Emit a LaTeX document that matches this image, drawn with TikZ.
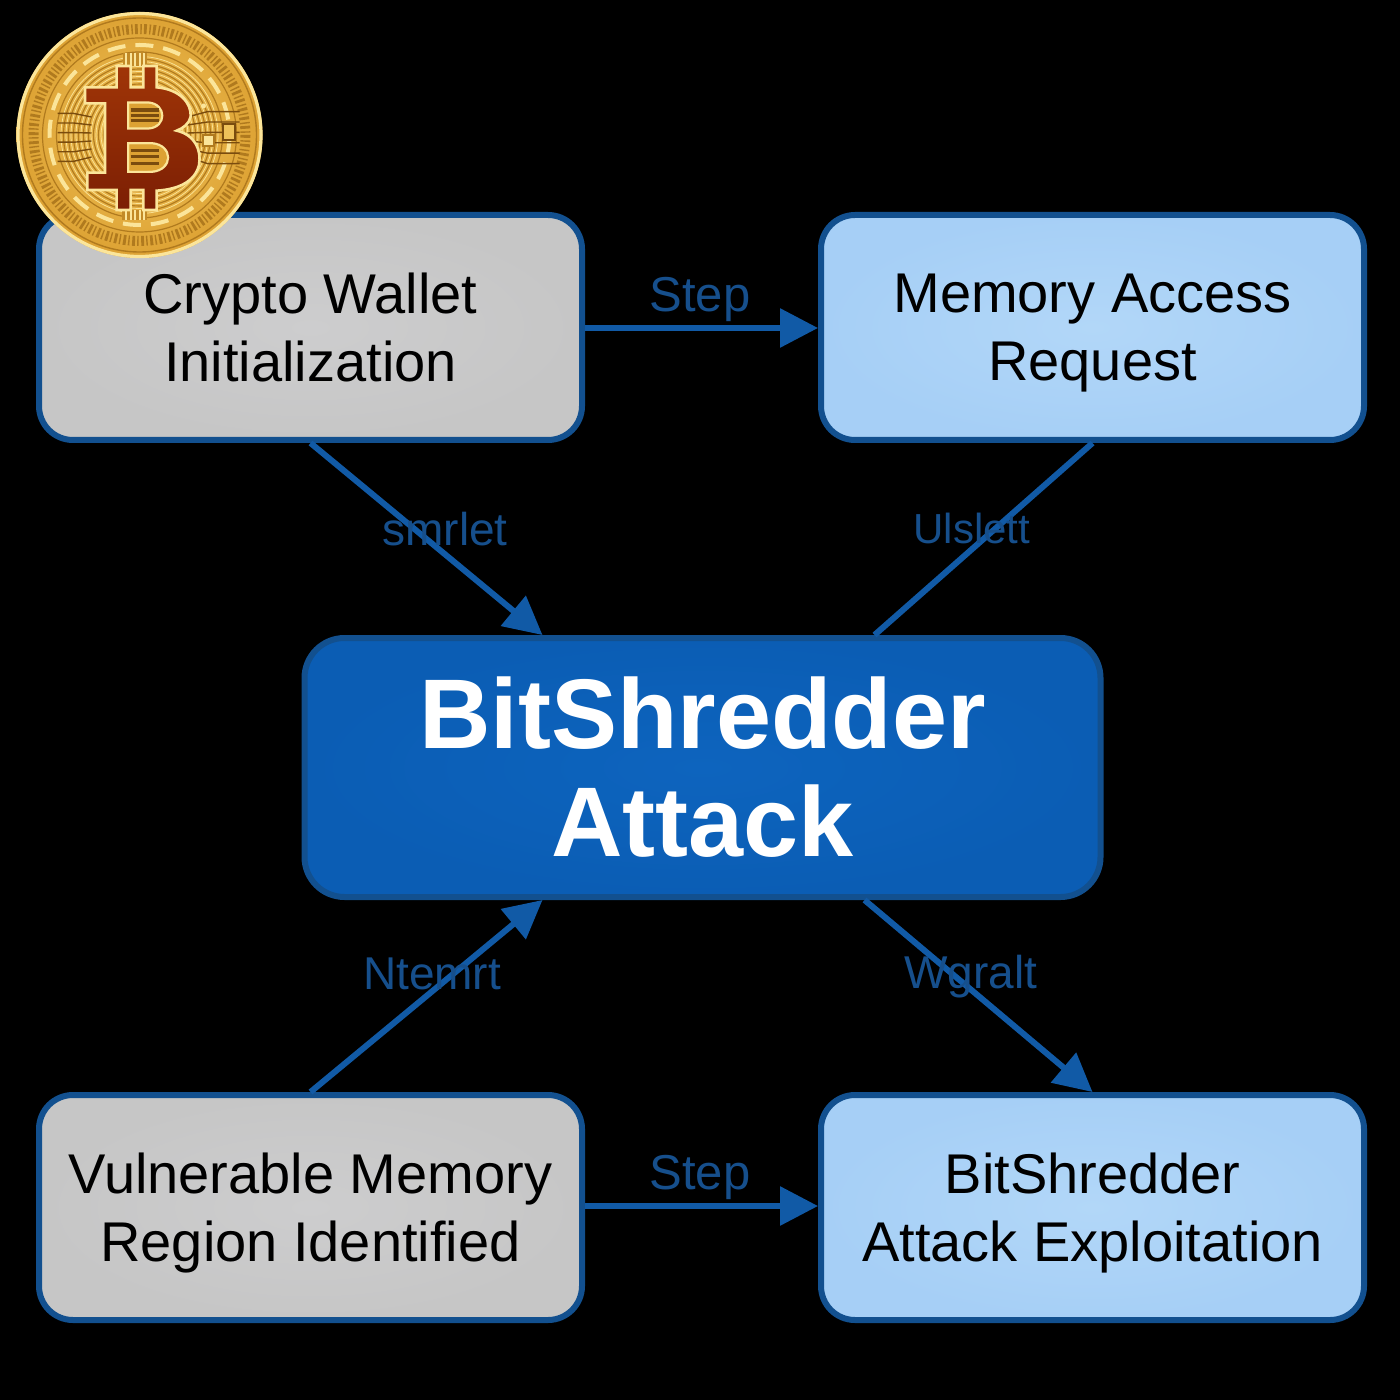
\documentclass[tikz,border=0pt]{standalone}
\usepackage{fontspec}
\setmainfont{Liberation Sans}
\usetikzlibrary{arrows.meta,calc,shadings}
\definecolor{edgeblue}{HTML}{12508F}
\definecolor{arrowblue}{HTML}{115AA6}
\definecolor{labelblue}{HTML}{164F8C}
\definecolor{graybox}{HTML}{C6C6C6}
\definecolor{grayboxhi}{HTML}{CDCDCE}
\definecolor{lightbox}{HTML}{A6CFF6}
\definecolor{lightboxhi}{HTML}{B2D7F8}
\definecolor{mainbox}{HTML}{0B5DB4}
\definecolor{mainboxhi}{HTML}{0D64BE}
\definecolor{gA}{HTML}{EFC25A}
\definecolor{gB}{HTML}{DDA233}
\definecolor{gC}{HTML}{B07A1E}
\definecolor{gD}{HTML}{7A4C0E}
\definecolor{gE}{HTML}{FBE59A}
\definecolor{redB}{HTML}{A03507}
\definecolor{redC}{HTML}{7C1F04}
\newcommand{\nodepth}[1]{\raisebox{0pt}[\height][0pt]{#1}}
\tikzset{
  x=0.5pt,y=-0.5pt,
  boxbase/.style={rectangle,rounded corners=17pt,line width=3pt,draw=edgeblue,align=center,
    minimum width=271.5pt,minimum height=112.5pt,outer sep=1.5pt,inner sep=0pt,
    font=\fontsize{28}{34}\selectfont,text=black},
  graynode/.style={boxbase,inner color=grayboxhi,outer color=graybox},
  lightnode/.style={boxbase,inner color=lightboxhi,outer color=lightbox},
  mainnode/.style={boxbase,inner color=mainboxhi,outer color=mainbox,text=white,
    minimum width=398pt,minimum height=129.5pt,rounded corners=20pt,
    font=\fontsize{49.5}{54}\selectfont\bfseries},
  link/.style={draw=arrowblue,line width=3pt,-{Triangle[length=19pt,width=19pt]}},
  tieline/.style={draw=arrowblue,line width=3pt},
  steplabel/.style={text=labelblue,font=\fontsize{24.5}{28}\selectfont,inner sep=0pt},
  midlabel/.style={text=labelblue,font=\fontsize{23}{25}\selectfont,inner sep=0pt},
}
\begin{document}
\begin{tikzpicture}
\useasboundingbox (0,0) rectangle (1400,1400);
\fill[black] (0,0) rectangle (1400,1400);

\node[graynode]  (wallet) at (310.5,327.5)  {Crypto Wallet\\\nodepth{Initialization}};
\node[lightnode] (memory) at (1092.5,327.5) {Memory Access\\\nodepth{Request}};
\node[mainnode]  (attack) at (702.5,767.5)  {BitShredder\\Attack};
\node[graynode]  (region) at (310.5,1207.5) {Vulnerable Memory\\\nodepth{Region Identified}};
\node[lightnode] (exploit) at (1092.5,1207.5) {BitShredder\\\nodepth{Attack Exploitation}};

\coordinate (inTop)  at ($(attack.north)+(-160,0)$);
\coordinate (outTop) at ($(attack.north)+(172,0)$);
\coordinate (inBot)  at ($(attack.south)+(-160,0)$);
\coordinate (outBot) at ($(attack.south)+(162,0)$);

\draw[link] (wallet.east |- 0,328) -- (memory.west |- 0,328);
\draw[link] (region.east |- 0,1206) -- (exploit.west |- 0,1206);
\draw[link] (wallet.south) -- (inTop);
\draw[tieline] (memory.south) -- (outTop);
\draw[link] (region.north) -- (inBot);
\draw[link] (outBot) -- (exploit.north);

\node[steplabel] (stepa) at (700,299)  {Step};
\node[steplabel] (stepb) at (700,1177) {Step};
\node[midlabel]  (laba)  at (445,529)  {smrlet};
\node[midlabel,font=\fontsize{21}{25}\selectfont]  (labb)  at (972,528)  {Ulslett};
\node[midlabel]  (labc)  at (432,974)  {Ntemrt};
\node[midlabel]  (labd)  at (971,977)  {Wgralt};

% coin
\begin{scope}[shift={(139.5,135)}]
  \shade[inner color=gA,outer color=gB] (0,0) circle (123);
  \draw[gE,line width=1.6pt] (0,0) circle (121.5);
  \draw[gC,line width=0.7pt] (0,0) circle (117);
  % lettered ring
  \draw[gC,line width=5pt,dash pattern=on 1.4pt off 1.3pt on 0.7pt off 1.1pt] (0,0) circle (106);
  \draw[gC,line width=0.6pt] (0,0) circle (97);
  \draw[gE,line width=2pt,dash pattern=on 9pt off 5pt] (0,0) circle (90);
  \draw[gC,line width=0.6pt] (0,0) circle (83);
  % concentric engraving
  \foreach \r in {36,41,...,80}{\draw[gC,line width=0.55pt] (0,0) circle (\r);}
  \foreach \r in {38.5,43.5,...,78.5}{\draw[gE,line width=0.35pt] (0,0) circle (\r);}
  % circuit traces
  \foreach \dy in {-18,-10,-2,6,14,22}{
    \draw[gD,line width=0.7pt] (48,\dy) -- (68,\dy*1.3) -- (100,\dy*1.3);
    \draw[gD,line width=0.7pt] (-48,\dy) -- (-66,\dy*1.2) -- (-82,\dy*1.2);
  }
  \fill[gD] (82,-12) rectangle (96,6);
  \fill[gA] (84,-10) rectangle (94,4);
  \fill[gC] (75,-1) rectangle (62,12);
  \fill[gE] (64,1) rectangle (73,10);
  \fill[gE] (64,-29) circle (2.5);
\end{scope}
% bitcoin symbol, coordinates scaled from a 3x grid
\begin{scope}[x=0.16667pt,y=-0.16667pt]
  \fill[gC!60!gB] (370,160) rectangle (440,198);
  \fill[gC!60!gB] (365,630) rectangle (440,660);
  \foreach \xx in {378,392,406,420,432}{\draw[gE,line width=1pt] (\xx,160) -- (\xx,198);\draw[gE,line width=1pt] (\xx,630) -- (\xx,660);}
  \path[even odd rule,draw=gE,line width=1.3pt,top color=redB,bottom color=redC]
    (255,262) -- (350,262) -- (350,198) -- (392,198) -- (392,262) -- (430,262) -- (430,198) -- (470,198) -- (470,262)
    .. controls (540,268) and (575,310) .. (572,350)
    .. controls (568,370) and (550,385) .. (530,392)
    .. controls (585,405) and (605,450) .. (597,495)
    .. controls (585,545) and (535,568) .. (470,572)
    -- (470,630) -- (430,630) -- (430,570) -- (392,570) -- (392,630) -- (350,630) -- (350,570) -- (262,570) -- (262,518) -- (315,518) -- (315,310) -- (255,310) -- cycle
    (385,308) -- (445,308) .. controls (500,312) and (500,382) .. (445,385) -- (385,385) -- cycle
    (385,430) -- (455,430) .. controls (520,435) and (520,510) .. (455,515) -- (385,515) -- cycle;
  \fill[gB] (388,311) -- (445,311) .. controls (496,315) and (496,379) .. (445,382) -- (388,382) -- cycle;
  \fill[gB] (388,433) -- (455,433) .. controls (516,438) and (516,507) .. (455,512) -- (388,512) -- cycle;
  \foreach \yy in {330,346,362}{\draw[gD,line width=1.6pt,dash pattern=on 14pt off 5pt] (392,\yy) -- (482,\yy);}
  \foreach \yy in {452,470,490}{\draw[gD,line width=1.6pt,dash pattern=on 14pt off 5pt] (392,\yy) -- (498,\yy);}
\end{scope}
\end{tikzpicture}
\end{document}
